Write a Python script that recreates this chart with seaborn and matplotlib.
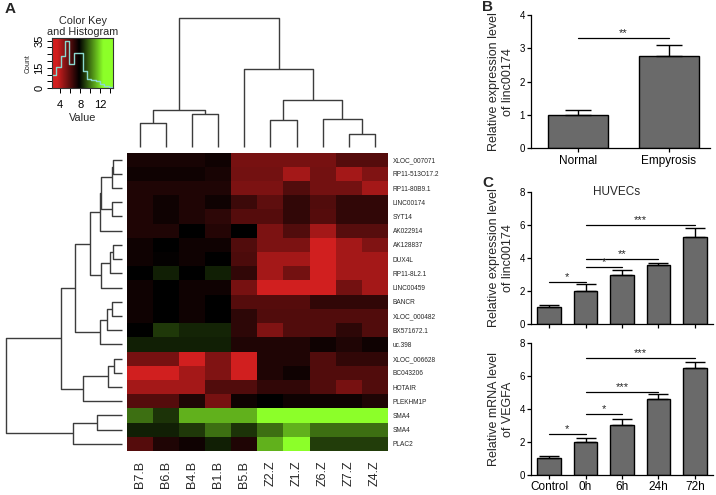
import numpy as np
import pandas as pd
import matplotlib
matplotlib.use("Agg")
import matplotlib.pyplot as plt
import seaborn as sns
from matplotlib.colors import LinearSegmentedColormap

sns.set_theme(style="white")
plt.rcParams['font.family'] = ['Liberation Sans', 'DejaVu Sans']

# ---------------- Panel A data ----------------
samples = ["B7.B", "B6.B", "B4.B", "B1.B", "B5.B", "Z2.Z", "Z1.Z", "Z6.Z", "Z7.Z", "Z4.Z"]
genes = ["XLOC_007071", "RP11-513O17.2", "RP11-80B9.1", "LINC00174", "SYT14", "AK022914",
         "AK128837", "DUX4L", "RP11-8L2.1", "LINC00459", "BANCR", "XLOC_000482",
         "BX571672.1", "uc.398", "XLOC_006628", "BC043206", "HOTAIR", "PLEKHM1P",
         "SMA4", "SMA4", "PLAC2"]
row_XLOC_007071 = [7.3, 7.3, 7.3, 7.5, 5.3, 5.3, 5.3, 5.3, 6.0, 6.0]
row_RP11_513O17 = [7.5, 7.5, 7.5, 7.3, 5.4, 5.4, 4.35, 5.4, 4.35, 5.1]
row_RP11_80B9 = [7.15, 7.15, 7.15, 7.15, 5.2, 5.2, 6.1, 5.4, 5.4, 4.35]
row_LINC00174 = [7.15, 7.5, 7.15, 7.5, 6.55, 5.85, 6.75, 6.1, 6.75, 6.75]
row_SYT14 = [7.15, 7.5, 7.15, 6.85, 6.0, 6.0, 6.75, 6.0, 6.75, 6.75]
row_AK022914 = [7.15, 7.15, 7.8, 7.05, 7.8, 5.2, 6.1, 4.35, 5.95, 5.95]
row_AK128837 = [7.5, 7.8, 7.5, 7.5, 6.1, 5.2, 5.2, 3.2, 4.35, 5.1]
row_DUX4L = [7.5, 7.7, 7.5, 7.8, 6.2, 4.35, 4.35, 3.2, 4.35, 4.35]
row_RP11_8L2 = [7.8, 8.4, 7.8, 8.4, 6.75, 4.35, 5.4, 3.2, 4.35, 4.35]
row_LINC00459 = [7.5, 7.8, 7.5, 7.5, 5.3, 3.2, 3.2, 3.2, 5.4, 4.35]
row_BANCR = [7.5, 7.8, 7.5, 7.8, 6.0, 6.0, 6.0, 6.75, 6.75, 6.75]
row_XLOC_000482 = [7.5, 7.8, 7.5, 7.8, 6.85, 6.1, 6.1, 6.1, 6.1, 6.1]
row_BX571672 = [7.8, 8.85, 8.46, 8.46, 6.85, 5.1, 6.1, 6.1, 6.85, 6.1]
row_uc398 = [8.36, 8.36, 8.36, 8.36, 7.15, 7.15, 7.15, 7.5, 7.15, 7.5]
row_XLOC_006628 = [5.3, 5.3, 3.2, 5.1, 3.2, 7.15, 7.15, 6.1, 6.75, 6.75]
row_BC043206 = [3.2, 3.2, 4.35, 5.1, 3.2, 7.15, 7.5, 6.1, 6.1, 6.1]
row_HOTAIR = [4.35, 4.35, 4.35, 6.1, 6.1, 6.75, 6.75, 6.1, 5.3, 6.1]
row_PLEKHM1P = [6.0, 6.0, 7.15, 5.3, 7.5, 7.8, 7.5, 7.5, 7.5, 7.15]
row_SMA4_a = [9.9, 8.75, 11.1, 11.1, 11.1, 13.2, 13.2, 13.2, 13.2, 13.2]
row_SMA4_b = [8.36, 8.36, 8.85, 9.9, 8.75, 9.9, 11.1, 9.9, 9.9, 9.9]
row_PLAC2 = [6.0, 7.15, 7.5, 8.36, 7.15, 11.1, 13.2, 8.93, 8.93, 8.93]

rows = [row_XLOC_007071, row_RP11_513O17, row_RP11_80B9, row_LINC00174, row_SYT14,
        row_AK022914, row_AK128837, row_DUX4L, row_RP11_8L2, row_LINC00459, row_BANCR,
        row_XLOC_000482, row_BX571672, row_uc398, row_XLOC_006628, row_BC043206,
        row_HOTAIR, row_PLEKHM1P, row_SMA4_a, row_SMA4_b, row_PLAC2]

# dendrogram merges: (child a, child b, height); new node id = n_leaves + index
col_merges = [(0, 1, 23.4), (2, 3, 32.7), (10, 11, 36.7), (5, 6, 26.7), (8, 9, 12.4),
              (7, 14, 27.7), (13, 15, 46.7), (4, 16, 77.7), (12, 17, 128.4)]
row_merges = [(0, 1, 8.7), (21, 2, 9.7), (3, 4, 9.7), (22, 23, 21), (24, 5, 22),
              (6, 7, 8.7), (26, 8, 12), (27, 9, 20.3), (25, 28, 32), (10, 11, 9.3),
              (30, 12, 14.7), (31, 13, 22), (29, 32, 47), (14, 15, 8), (34, 16, 13.7),
              (35, 17, 38.7), (33, 36, 61), (18, 19, 25), (38, 20, 49), (37, 39, 116)]

# colour key histogram
key_edges = list(np.linspace(2.4, 14.5, 15))
key_counts = [10, 16, 24, 35, 18, 26, 26, 13, 7, 6, 5, 3, 2, 1]

# ---------------- Panel B data ----------------
b_groups = ["Normal", "Empyrosis"]
b_means = [1.0, 2.78]
b_errs = [0.15, 0.32]
b_sig = [(0, 1, 3.3, "**")]

# ---------------- Panel C data ----------------
c_groups = ["Control", "0h", "6h", "24h", "72h"]
c1_means = [1.0, 1.97, 2.97, 3.58, 5.25]
c1_errs = [0.16, 0.45, 0.3, 0.13, 0.54]
c1_sig = [(0, 1, 2.56, "*"), (1, 2, 3.47, "*"), (1, 3, 3.93, "**"), (1, 4, 5.99, "***")]
c2_means = [1.01, 2.0, 3.0, 4.57, 6.45]
c2_errs = [0.15, 0.22, 0.41, 0.33, 0.36]
c2_sig = [(0, 1, 2.46, "*"), (1, 2, 3.67, "*"), (1, 3, 5.04, "***"), (1, 4, 7.06, "***")]

# ---------------- figure ----------------
W, H = 716, 495
fig = plt.figure(figsize=(W / 100, H / 100), dpi=100)


def box(x0, y0, x1, y1):
    return [x0 / W, 1 - y1 / H, (x1 - x0) / W, (y1 - y0) / H]


vmin, vmax = 2.4, 14.5
cmap = LinearSegmentedColormap.from_list(
    "rg", [(0.0, (0.82, 0.12, 0.12)), ((3.4 - vmin) / (vmax - vmin), (0.82, 0.12, 0.12)),
           ((7.8 - vmin) / (vmax - vmin), (0, 0, 0)),
           ((12.6 - vmin) / (vmax - vmin), (0.55, 1.0, 0.16)), (1.0, (0.55, 1.0, 0.16))])

df = pd.DataFrame(rows, index=genes, columns=samples)

ax_hm = fig.add_axes(box(126.7, 152.5, 388, 451))
sns.heatmap(df, ax=ax_hm, cmap=cmap, vmin=vmin, vmax=vmax, cbar=False,
            xticklabels=samples, yticklabels=genes)
ax_hm.yaxis.tick_right()
ax_hm.tick_params(axis='y', length=0, labelsize=4.7, pad=3.5, labelrotation=0)
ax_hm.tick_params(axis='x', length=0, labelsize=9, pad=7, labelrotation=90)
ax_hm.set_xlabel("")
ax_hm.set_ylabel("")

dcol = "#3c3c3c"


def draw_dendro(ax, merges, n_leaves, orient):
    pos = {i: i + 0.5 for i in range(n_leaves)}
    hgt = {i: 0.0 for i in range(n_leaves)}
    for k, (a, b, h) in enumerate(merges):
        xs = [pos[a], pos[a], pos[b], pos[b]]
        ys = [hgt[a], h, h, hgt[b]]
        if orient == "top":
            ax.plot(xs, ys, color=dcol, lw=1.0, clip_on=False, solid_capstyle='butt')
        else:
            ax.plot(ys, xs, color=dcol, lw=1.0, clip_on=False, solid_capstyle='butt')
        node = n_leaves + k
        pos[node] = (pos[a] + pos[b]) / 2
        hgt[node] = h
    return max(m[2] for m in merges)


ax_cd = fig.add_axes(box(126.7, 18, 388, 146.7))
top = draw_dendro(ax_cd, col_merges, len(samples), "top")
ax_cd.set_xlim(0, len(samples))
ax_cd.set_ylim(0, top)
ax_cd.axis("off")

ax_rd = fig.add_axes(box(6, 152.5, 121.7, 451))
top = draw_dendro(ax_rd, row_merges, len(genes), "left")
ax_rd.set_ylim(len(genes), 0)
ax_rd.set_xlim(top, 0)
ax_rd.axis("off")

# colour key
ax_key = fig.add_axes(box(52, 38.3, 113, 88.3))
grad = np.linspace(vmin, vmax, 300)[None, :]
ax_key.imshow(grad, extent=[vmin, vmax, 0, 36.7], aspect="auto", cmap=cmap,
              vmin=vmin, vmax=vmax, origin="lower")
centers = [(key_edges[i] + key_edges[i + 1]) / 2 for i in range(len(key_counts))]
sns.histplot(x=centers, weights=key_counts, bins=key_edges, element="step", fill=False,
             color="#8ad8cf", linewidth=1.0, ax=ax_key)
ax_key.set_xlim(vmin, vmax)
ax_key.set_ylim(0, 36.7)
ax_key.set_xticks([4, 6, 8, 10, 12, 14])
ax_key.set_xticklabels(["4", "", "8", "", "12", ""])
ax_key.set_yticks([0, 5, 10, 15, 20, 25, 30, 35])
ax_key.set_yticklabels(["0", "", "", "15", "", "", "", "35"], rotation=90, va="center")
ax_key.tick_params(axis="both", direction="out", length=3.5, width=0.7, colors="black",
                   labelsize=8, bottom=True, left=True)
ax_key.tick_params(axis="x", pad=5)
ax_key.tick_params(axis="y", pad=2)
ax_key.set_xlabel("Value", fontsize=7.8, labelpad=2)
ax_key.set_ylabel("Count", fontsize=5, labelpad=2)
for s in ax_key.spines.values():
    s.set_color("#333333")
    s.set_linewidth(0.8)
ax_key.text(0.5, 1.03, "Color Key\nand Histogram", transform=ax_key.transAxes,
            ha="center", va="bottom", fontsize=7.8, linespacing=1.1)

# bar panels
bar_color = "#6a6a6a"


def bar_panel(ax, groups, means, errs, sigs, ymax, yticks, capsize, width, show_labels,
              star_off):
    sns.barplot(x=groups, y=means, color=bar_color, saturation=1, edgecolor="black",
                linewidth=1.0, width=width, errorbar=None, ax=ax)
    n = len(means)
    ax.errorbar(range(n), means, yerr=[np.zeros(n), errs], fmt="none", ecolor="black",
                elinewidth=1.0, capsize=capsize, capthick=1.0, zorder=5)
    for i, j, y, lab in sigs:
        ax.plot([i, j], [y, y], color="black", lw=0.9)
        ax.text((i + j) / 2, y + star_off, lab, ha="center", va="bottom", fontsize=8)
    ax.set_ylim(0, ymax)
    ax.set_yticks(yticks)
    sns.despine(ax=ax)
    for s in ["left", "bottom"]:
        ax.spines[s].set_color("black")
        ax.spines[s].set_linewidth(0.9)
    ax.tick_params(axis="both", direction="out", length=3, width=0.9, colors="black",
                   bottom=True, left=True, pad=1.5)
    ax.tick_params(axis="y", labelsize=7)
    ax.tick_params(axis="x", labelsize=8.5)
    if not show_labels:
        ax.set_xticklabels([])
    ax.set_xlabel("")


ax_b = fig.add_axes(box(531, 15, 709.7, 148.3))
bar_panel(ax_b, b_groups, b_means, b_errs, b_sig, 4, [0, 1, 2, 3, 4], 9.5, 0.66, True, 0.0)
ax_b.set_xlim(-0.52, 1.45)
ax_b.set_ylabel("Relative expression level\nof linc00174", fontsize=9, labelpad=4)

ax_c1 = fig.add_axes(box(531, 191.7, 713, 324))
bar_panel(ax_c1, c_groups, c1_means, c1_errs, c1_sig, 8, [0, 2, 4, 6, 8], 7, 0.65, False, 0.0)
ax_c1.set_xlim(-0.5, 4.5)
ax_c1.set_ylabel("Relative expression level\nof linc00174", fontsize=9, labelpad=4)
ax_c1.text(0.47, 1.0, "HUVECs", transform=ax_c1.transAxes, ha="center", va="center",
           fontsize=8.5)

ax_c2 = fig.add_axes(box(531, 342.7, 713, 475))
bar_panel(ax_c2, c_groups, c2_means, c2_errs, c2_sig, 8, [0, 2, 4, 6, 8], 7, 0.65, True, 0.0)
ax_c2.set_xlim(-0.5, 4.5)
ax_c2.set_ylabel("Relative mRNA level\nof VEGFA", fontsize=9, labelpad=4)

# panel letters
fig.text(5 / W, 1 - 2 / H, "A", fontsize=11, fontweight="bold", va="top", ha="left")
fig.text(482 / W, 1 - 0 / H, "B", fontsize=11, fontweight="bold", va="top", ha="left")
fig.text(482 / W, 1 - 176 / H, "C", fontsize=11, fontweight="bold", va="top", ha="left")

fig.savefig("out.png", dpi=100)
